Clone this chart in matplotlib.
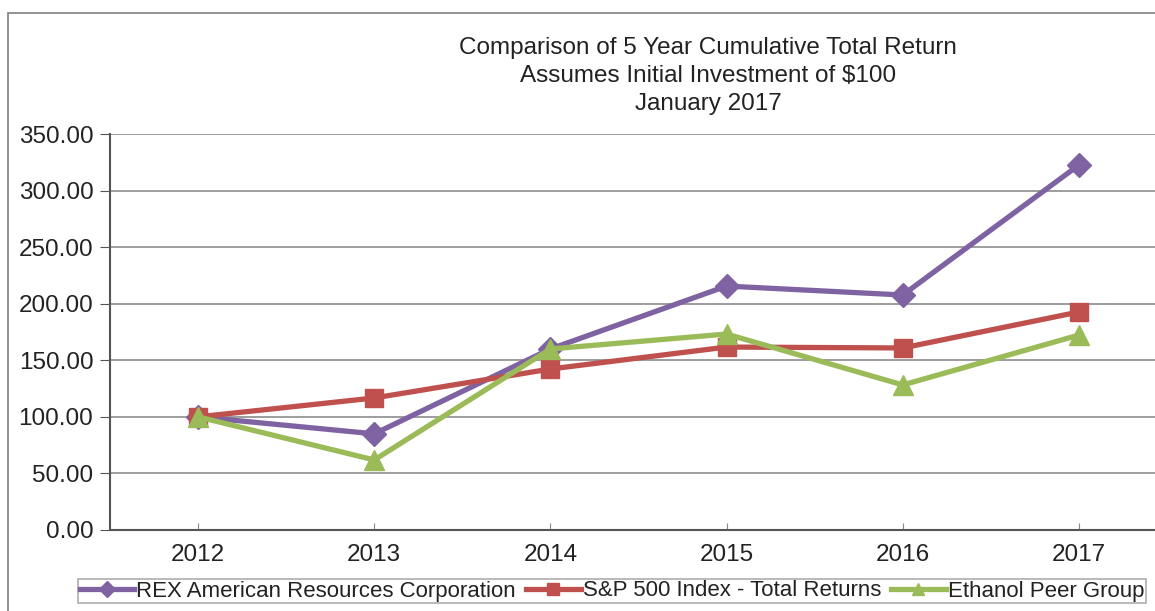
import matplotlib
matplotlib.use("Agg")
import matplotlib.pyplot as plt
from matplotlib.patches import Rectangle

plt.rcParams['font.family'] = ['Liberation Sans', 'DejaVu Sans']

years = ["2012", "2013", "2014", "2015", "2016", "2017"]
rex = [100.0, 85.0, 160.0, 215.6, 207.7, 322.6]
sp500 = [100.0, 116.7, 142.3, 161.7, 160.9, 192.7]
ethanol = [100.0, 61.9, 160.0, 173.2, 128.2, 172.3]
yticks = [0, 50, 100, 150, 200, 250, 300, 350]
title_lines = ["Comparison of 5 Year Cumulative Total Return",
               "Assumes Initial Investment of $100",
               "January 2017"]
series_names = ["REX American Resources Corporation",
                "S&P 500 Index - Total Returns",
                "Ethanol Peer Group"]

fig = plt.figure(figsize=(11.55, 6.11), dpi=100)
fig.patches.append(Rectangle((8/1155, -0.01), 1.1, 1 - 13/611 + 0.01,
                             transform=fig.transFigure, fill=False,
                             edgecolor='#808080', linewidth=1.2))

ax = fig.add_axes([110/1155, 81/611, 1057/1155, 396/611])
x = list(range(len(years)))
ax.plot(x, rex, color='#7F62A1', lw=3.8, marker='D', ms=12, label=series_names[0], zorder=3)
ax.plot(x, sp500, color='#C0504D', lw=3.8, marker='s', ms=12.5, label=series_names[1], zorder=3)
ax.plot(x, ethanol, color='#9BBB59', lw=3.8, marker='^', ms=14, label=series_names[2], zorder=4)

ax.set_xlim(-0.5, 5.5)
ax.set_ylim(0, 350)
ax.set_yticks(yticks)
ax.set_yticklabels([f"{v:.2f}" for v in yticks], fontsize=17.5, color='#222222')
ax.set_xticks(x)
ax.set_xticklabels(years, fontsize=17.5, color='#222222')
ax.yaxis.grid(True, color='#8c8c8c', lw=1.2)
ax.set_axisbelow(True)
for s in ['top', 'right']:
    ax.spines[s].set_visible(False)
for s in ['left', 'bottom']:
    ax.spines[s].set_color('#555555')
    ax.spines[s].set_linewidth(1.5)
ax.tick_params(axis='y', direction='out', length=7, color='#555555', pad=5)
ax.tick_params(axis='x', direction='in', length=5, color='#888888', pad=10)

for i, t in enumerate(title_lines):
    fig.text(708/1155, 1 - (48 + 28*i)/611, t, ha='center', va='center',
             fontsize=17.5, color='#222222')

leg = fig.legend(loc='center left', bbox_to_anchor=(78/1155, 1 - 591/611),
                 ncol=3, fontsize=16, frameon=True, fancybox=False,
                 edgecolor='#9a9a9a', handlelength=2.45, handletextpad=0.1,
                 columnspacing=0.45, borderpad=0.08, borderaxespad=0)
leg.get_frame().set_linewidth(1.2)
for h in leg.get_lines():
    h.set_markersize(8)
plt.setp(leg.get_texts(), color='#222222')

fig.savefig("out.png", dpi=100)
